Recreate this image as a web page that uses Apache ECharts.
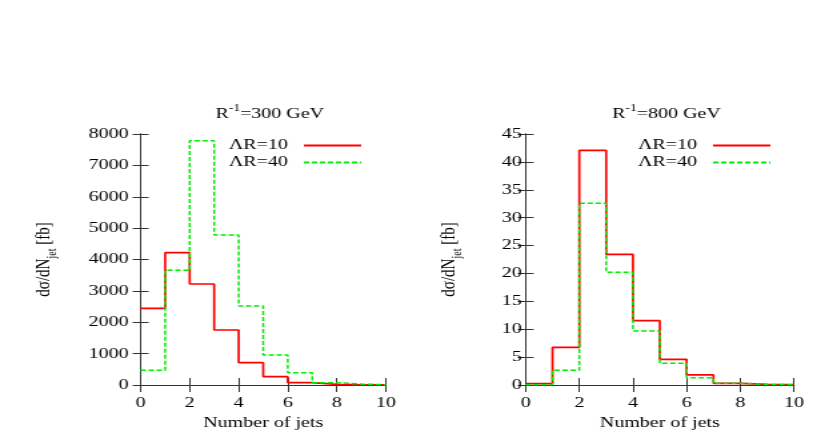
<!DOCTYPE html>
<html>
<head>
<meta charset="utf-8">
<script src="https://cdn.jsdelivr.net/npm/echarts@6/dist/echarts.min.js"></script>
<style>
html,body{margin:0;padding:0;background:#fff;overflow:hidden;}
#c{width:613px;height:436px;transform:scaleX(1.3328);transform-origin:0 0;}
</style>
</head>
<body>
<div id="c"></div>
<script>
// ---- data ----
const binLeftEdges = [0, 1, 2, 3, 4, 5, 6, 7, 8, 9];
const xMax = 10;
const seriesNames = ['ΛR=10', 'ΛR=40'];
const r300_AR10 = [2445, 4217, 3219, 1753, 712, 266, 75, 20, 5, 2];
const r300_AR40 = [468, 3655, 7787, 4781, 2518, 956, 393, 75, 30, 10];
const r800_AR10 = [0.24, 6.75, 42.07, 23.43, 11.53, 4.6, 1.8, 0.3, 0.1, 0.05];
const r800_AR40 = [0.05, 2.63, 32.6, 20.2, 9.7, 3.9, 1.3, 0.3, 0.1, 0.05];
const panelTitles = ['300 GeV', '800 GeV'];
const yMaxes = [8000, 45];
const yIntervals = [1000, 5];
const xInterval = 2;

// ---- styling ----
const FONT = '"Liberation Serif","Times New Roman",serif';
const AXIS_COLOR = '#333';
const RED = '#ff0000';
const GREEN = '#00ee00';

function stepData(vals) {
  const d = vals.map((v, i) => [binLeftEdges[i], v]);
  d.push([xMax, vals[vals.length - 1]]);
  return d;
}

const grids = [
  {left: 105.5, width: 184, top: 134, height: 251},
  {left: 394.4, width: 201.3, top: 134, height: 251}
];
const yLabelMargins = [9, 3];
const yNameGaps = [61, 46];
const legendRights = [336, 29];

const xAxes = [], yAxes = [], series = [], titles = [], legends = [];
const panelData = [[r300_AR10, r300_AR40], [r800_AR10, r800_AR40]];

grids.forEach((g, gi) => {
  const baseLine = {show: true, lineStyle: {color: AXIS_COLOR, width: 1}};
  xAxes.push({
    gridIndex: gi, type: 'value', min: 0, max: xMax, interval: xInterval, position: 'bottom',
    axisLine: baseLine,
    axisTick: {show: true, inside: true, length: 7, lineStyle: {color: AXIS_COLOR}},
    axisLabel: {color: '#000', fontFamily: FONT, fontSize: 15, margin: 11, formatter: v => String(v)},
    splitLine: {show: false},
    name: 'Number of jets', nameLocation: 'middle', nameGap: 30,
    nameTextStyle: {color: '#000', fontFamily: FONT, fontSize: 15}
  });
  xAxes.push({
    gridIndex: gi, type: 'value', min: 0, max: xMax, interval: xInterval, position: 'top',
    axisLine: baseLine,
    axisTick: {show: true, inside: true, length: 7, lineStyle: {color: AXIS_COLOR}},
    axisLabel: {show: false}, splitLine: {show: false}
  });
  yAxes.push({
    gridIndex: gi, type: 'value', min: 0, max: yMaxes[gi], interval: yIntervals[gi], position: 'left',
    axisLine: baseLine,
    axisTick: {show: true, inside: true, length: 6, lineStyle: {color: AXIS_COLOR}},
    axisLabel: {color: '#000', fontFamily: FONT, fontSize: 15, margin: yLabelMargins[gi], formatter: v => String(v)},
    splitLine: {show: false},
    name: '{m|dσ/dN}{s|jet}{m| [fb]}', nameLocation: 'middle', nameRotate: 90, nameGap: yNameGaps[gi],
    nameTextStyle: {
      color: '#000', fontFamily: FONT, fontSize: 15,
      rich: {
        m: {fontFamily: FONT, fontSize: 15, color: '#000', lineHeight: 22, verticalAlign: 'middle'},
        s: {fontFamily: FONT, fontSize: 10, color: '#000', lineHeight: 22, verticalAlign: 'bottom'}
      }
    }
  });
  yAxes.push({
    gridIndex: gi, type: 'value', min: 0, max: yMaxes[gi], interval: yIntervals[gi], position: 'right',
    axisLine: baseLine,
    axisTick: {show: true, inside: true, length: 6, lineStyle: {color: AXIS_COLOR}},
    axisLabel: {show: false}, splitLine: {show: false}
  });
  const [a10, a40] = panelData[gi];
  series.push({
    name: seriesNames[0], type: 'line', xAxisIndex: 2 * gi, yAxisIndex: 2 * gi,
    step: 'end', symbol: 'none', data: stepData(a10), animation: false,
    lineStyle: {color: RED, width: 1.7}, itemStyle: {color: RED}, z: 2
  });
  series.push({
    name: seriesNames[1], type: 'line', xAxisIndex: 2 * gi, yAxisIndex: 2 * gi,
    step: 'end', symbol: 'none', data: stepData(a40), animation: false,
    lineStyle: {color: GREEN, width: 1.5, type: [4, 2]}, itemStyle: {color: GREEN}, z: 3
  });
  titles.push({
    text: '{m|R}{p|-1}{m|=' + panelTitles[gi] + '}',
    left: g.left + g.width / 2, top: 98, textAlign: 'center',
    textStyle: {
      fontFamily: FONT, fontSize: 15, fontWeight: 'normal', color: '#000',
      rich: {
        m: {fontFamily: FONT, fontSize: 15, color: '#000', lineHeight: 22, verticalAlign: 'middle'},
        p: {fontFamily: FONT, fontSize: 10, color: '#000', lineHeight: 22, verticalAlign: 'top'}
      }
    }
  });
  legends.push({
    data: seriesNames, orient: 'vertical', align: 'right', right: legendRights[gi], top: 133,
    itemWidth: 43, itemHeight: 8, itemGap: 2, selectedMode: false,
    itemStyle: {opacity: 0, borderWidth: 0},
    textStyle: {fontFamily: FONT, fontSize: 15, color: '#000', lineHeight: 14, padding: [0, 7, 0, 0]}
  });
});

const chart = echarts.init(document.getElementById('c'), null, {renderer: 'canvas'});
chart.setOption({
  backgroundColor: '#fff',
  animation: false,
  title: titles,
  legend: legends,
  grid: grids,
  xAxis: xAxes,
  yAxis: yAxes,
  series: series
});
</script>
</body>
</html>
